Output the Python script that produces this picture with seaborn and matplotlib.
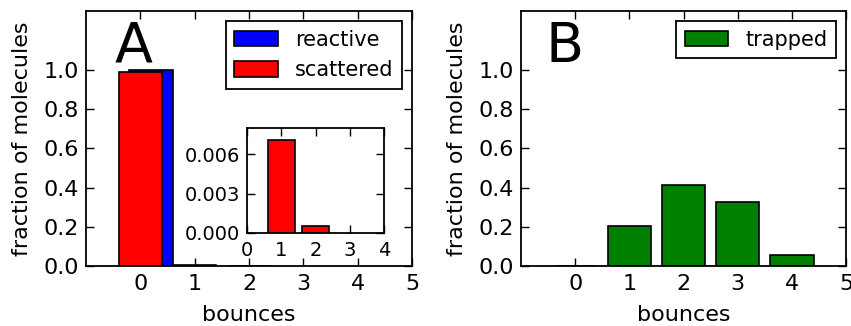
import matplotlib
matplotlib.use("Agg")
import matplotlib.pyplot as plt
from matplotlib.ticker import FormatStrFormatter
import seaborn as sns
import pandas as pd

# ---- data ----
scattered_bounces = [0, 1, 2]
scattered = [0.99, 0.0071, 0.00055]
reactive_bounces = [0]
reactive = [1.0]
reactive_offset = 0.2
trapped_bounces = [0, 1, 2, 3, 4]
trapped = [0.0, 0.205, 0.414, 0.325, 0.056]
inset_bounces = [1, 2]
inset_scattered = [0.0071, 0.00055]
xticks = [0, 1, 2, 3, 4, 5]
yticks = [0.0, 0.2, 0.4, 0.6, 0.8, 1.0]
inset_xticks = [0, 1, 2, 3, 4]
inset_yticks = [0.0, 0.003, 0.006]

sns.set_style("ticks")
plt.rcParams.update({
    "font.family": "DejaVu Sans",
    "axes.edgecolor": "black",
    "axes.labelcolor": "black",
    "text.color": "black",
    "xtick.color": "black",
    "ytick.color": "black",
    "xtick.direction": "in",
    "ytick.direction": "in",
    "xtick.top": True,
    "ytick.right": True,
    "xtick.major.size": 6,
    "ytick.major.size": 6,
    "xtick.major.width": 1.0,
    "ytick.major.width": 1.0,
    "xtick.major.pad": 6,
    "ytick.major.pad": 5,
    "axes.linewidth": 1.3,
    "axes.grid": False,
})

df_sc = pd.DataFrame({"bounces": scattered_bounces, "fraction": scattered})
df_re = pd.DataFrame({"bounces": [b + reactive_offset for b in reactive_bounces],
                      "fraction": reactive})
df_tr = pd.DataFrame({"bounces": trapped_bounces, "fraction": trapped})
df_in = pd.DataFrame({"bounces": inset_bounces, "fraction": inset_scattered})

fig = plt.figure(figsize=(8.51, 3.26), dpi=100)
axA = fig.add_axes([86 / 851, 60 / 326, 326 / 851, 255 / 326])
axB = fig.add_axes([521 / 851, 60 / 326, 325 / 851, 255 / 326])

bar_kw = dict(native_scale=True, errorbar=None, saturation=1, width=0.8,
              edgecolor="black", linewidth=1.2)

sns.barplot(data=df_re, x="bounces", y="fraction", color="blue",
            label="reactive", ax=axA, **bar_kw)
sns.barplot(data=df_sc, x="bounces", y="fraction", color="red",
            label="scattered", ax=axA, **bar_kw)
sns.barplot(data=df_tr, x="bounces", y="fraction", color="green",
            label="trapped", ax=axB, **bar_kw)

for ax, letter, lx in ((axA, "A", -0.47), (axB, "B", -0.55)):
    ax.set_xlim(-1, 5)
    ax.set_ylim(0, 1.3)
    ax.set_xticks(xticks)
    ax.set_yticks(yticks)
    ax.yaxis.set_major_formatter(FormatStrFormatter("%.1f"))
    ax.tick_params(labelsize=16)
    ax.set_xlabel("bounces", fontsize=16, labelpad=8)
    ax.set_ylabel("fraction of molecules", fontsize=16, labelpad=8)
    ax.text(lx, 1.04, letter, fontsize=40, ha="left", va="baseline")
    leg = ax.legend(loc="upper right", fontsize=15, fancybox=False,
                    framealpha=1, edgecolor="black", borderpad=0.4,
                    handlelength=2.1, handleheight=0.75, handletextpad=0.8,
                    labelspacing=0.5, borderaxespad=0.5)
    leg.get_frame().set_linewidth(1.3)

axI = fig.add_axes([247 / 851, 93 / 326, 137 / 851, 105 / 326])
sns.barplot(data=df_in, x="bounces", y="fraction", color="red", ax=axI, **bar_kw)
axI.set_xlim(0, 4)
axI.set_ylim(0, 0.008)
axI.set_xticks(inset_xticks)
axI.set_yticks(inset_yticks)
axI.yaxis.set_major_formatter(FormatStrFormatter("%.3f"))
axI.tick_params(labelsize=14)
axI.set_xlabel("")
axI.set_ylabel("")

fig.savefig("out.png", dpi=100)
